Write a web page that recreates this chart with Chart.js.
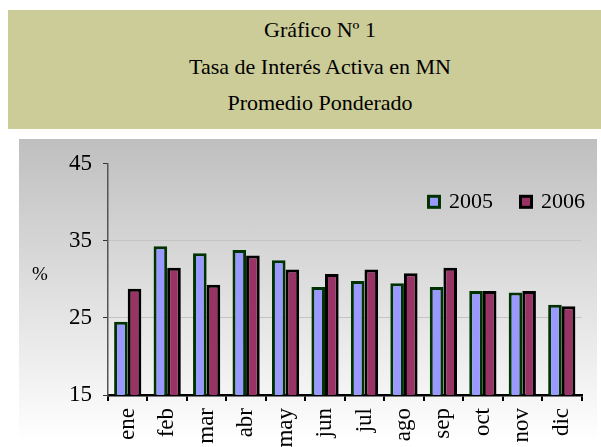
<!DOCTYPE html>
<html>
<head>
<meta charset="utf-8">
<script src="https://cdn.jsdelivr.net/npm/chart.js@4"></script>
<style>
  body { margin: 0; width: 601px; height: 447px; overflow: hidden; background: #fff; position: relative; }
  #title {
    position: absolute; left: 8px; top: 10px; width: 624px; height: 119px;
    background: #cccc99; font-family: "Liberation Serif", serif; font-size: 22px;
    color: #000; text-align: center;
  }
  #title div { position: absolute; left: 0; width: 100%; line-height: 22px; }
  #wrap {
    position: absolute; left: 19px; top: 139px; width: 578px; height: 330px;
    background: linear-gradient(#bfbfbf, #ffffff 303px);
  }
</style>
</head>
<body>
<div id="title">
  <div style="top:9px">Gráfico Nº 1</div>
  <div style="top:46px">Tasa de Interés Activa en MN</div>
  <div style="top:82px">Promedio Ponderado</div>
</div>
<div id="wrap"><canvas id="chart"></canvas></div>
<script>
// ===== Data =====
const months = ["ene", "feb", "mar", "abr", "may", "jun", "jul", "ago", "sep", "oct", "nov", "dic"];
const rate2005 = [24.5, 34.3, 33.4, 33.8, 32.5, 29.0, 29.8, 29.5, 29.0, 28.5, 28.3, 26.7];
const rate2006 = [28.8, 31.5, 29.3, 33.1, 31.3, 30.7, 31.3, 30.8, 31.5, 28.5, 28.5, 26.5];
const yTicks = [15, 25, 35, 45];

const serif = "'Liberation Serif', serif";

// draws the "%" label and the legend inside the plot
const extras = {
  id: "extras",
  afterDraw(chart) {
    const ctx = chart.ctx;
    const area = chart.chartArea;
    ctx.save();
    ctx.fillStyle = "#000";
    ctx.font = "19px " + serif;
    ctx.textBaseline = "middle";
    ctx.textAlign = "left";
    ctx.fillText("%", 13, 136);

    const items = [
      { label: "2005", fill: "#9999ff", border: "#003300", x: area.left + 319 },
      { label: "2006", fill: "#993366", border: "#000000", x: area.left + 411 }
    ];
    const cy = area.top + 38;
    ctx.font = "22px " + serif;
    items.forEach(it => {
      ctx.fillStyle = it.border;
      ctx.fillRect(it.x, cy - 7, 14, 14);
      ctx.fillStyle = it.fill;
      ctx.fillRect(it.x + 3, cy - 4, 8, 8);
      ctx.fillStyle = "#000";
      ctx.fillText(it.label, it.x + 22, cy);
    });
    ctx.restore();
  }
};

new Chart(document.getElementById("chart"), {
  type: "bar",
  data: {
    labels: months,
    datasets: [
      { label: "2005", data: rate2005, backgroundColor: "#9999ff", borderColor: "#003300", borderWidth: 3 },
      { label: "2006", data: rate2006, backgroundColor: "#993366", borderColor: "#000000", borderWidth: 3 }
    ]
  },
  options: {
    responsive: true,
    maintainAspectRatio: false,
    animation: false,
    datasets: { bar: { categoryPercentage: 0.69, barPercentage: 1.0 } },
    layout: { padding: { top: 20, right: 15, left: 0, bottom: 0 } },
    plugins: {
      legend: { display: false },
      tooltip: { enabled: false }
    },
    scales: {
      x: {
        afterFit: s => { s.height = 74; },
        border: { color: "#000", width: 2.5 },
        grid: { offset: true, drawOnChartArea: false, tickColor: "#000", tickLength: 6, lineWidth: 2 },
        ticks: {
          autoSkip: false, minRotation: 90, maxRotation: 90, padding: 7,
          color: "#000", font: { family: serif, size: 23 }
        }
      },
      y: {
        min: 15, max: 45,
        afterFit: s => { s.width = 89; },
        afterBuildTicks: s => { s.ticks = yTicks.map(v => ({ value: v })); },
        border: { color: "#555", width: 1.5 },
        grid: {
          color: c => (c.tick && (c.tick.value === 25 || c.tick.value === 35)) ? "#c4c4c4" : "rgba(0,0,0,0)",
          tickColor: "#333", tickLength: 5, lineWidth: 1
        },
        ticks: { padding: 11, color: "#000", font: { family: serif, size: 23 } }
      }
    }
  },
  plugins: [extras]
});
</script>
</body>
</html>
